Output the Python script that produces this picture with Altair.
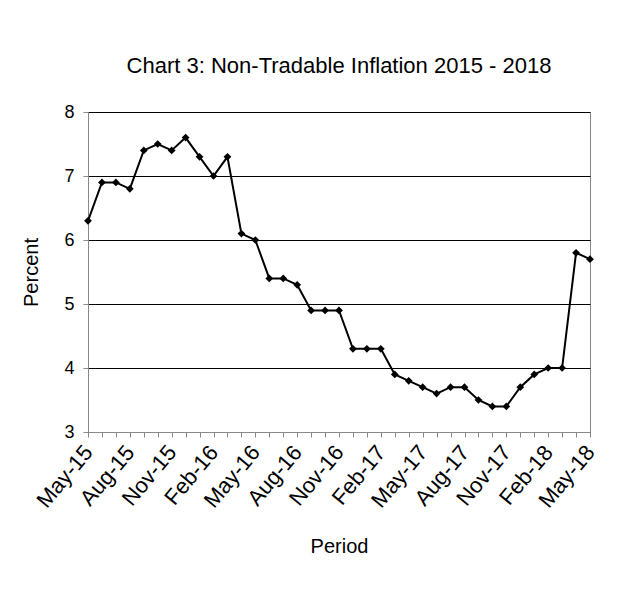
import altair as alt
import pandas as pd

periods = [
    "May-15", "Jun-15", "Jul-15", "Aug-15", "Sep-15", "Oct-15", "Nov-15", "Dec-15",
    "Jan-16", "Feb-16", "Mar-16", "Apr-16", "May-16", "Jun-16", "Jul-16", "Aug-16",
    "Sep-16", "Oct-16", "Nov-16", "Dec-16", "Jan-17", "Feb-17", "Mar-17", "Apr-17",
    "May-17", "Jun-17", "Jul-17", "Aug-17", "Sep-17", "Oct-17", "Nov-17", "Dec-17",
    "Jan-18", "Feb-18", "Mar-18", "Apr-18", "May-18",
]
inflation = [
    6.3, 6.9, 6.9, 6.8, 7.4, 7.5, 7.4, 7.6,
    7.3, 7.0, 7.3, 6.1, 6.0, 5.4, 5.4, 5.3,
    4.9, 4.9, 4.9, 4.3, 4.3, 4.3, 3.9, 3.8,
    3.7, 3.6, 3.7, 3.7, 3.5, 3.4, 3.4, 3.7,
    3.9, 4.0, 4.0, 5.8, 5.7,
]
y_ticks = [3, 4, 5, 6, 7, 8]

df = pd.DataFrame({"Period": periods, "Percent": inflation})

FONT = "Liberation Sans"

x_enc = alt.X(
    "Period:O",
    sort=periods,
    scale=alt.Scale(type="point", padding=0),
    axis=alt.Axis(
        title="Period",
        labelAngle=-50,
        labelExpr="test(/^(May|Aug|Nov|Feb)/, datum.value) ? datum.value : ''",
        labelOverlap=False,
        labelFontSize=22,
        labelColor="#000",
        labelPadding=11,
        tickSize=5,
        tickColor="#888",
        domainColor="#888",
        titleFontSize=20,
        titleFontWeight="normal",
        titleColor="#000",
        titlePadding=25,
        grid=False,
    ),
)
y_enc = alt.Y(
    "Percent:Q",
    scale=alt.Scale(domain=[3, 8], nice=False, zero=False),
    axis=alt.Axis(
        title="Percent",
        values=y_ticks,
        labelFontSize=18,
        labelColor="#000",
        labelPadding=9,
        tickSize=5,
        tickColor="#888",
        domainColor="#888",
        gridColor="#000",
        gridWidth=1,
        titleFontSize=20,
        titleFontWeight="normal",
        titleColor="#000",
        titlePadding=22,
    ),
)

base = alt.Chart(df).encode(x=x_enc, y=y_enc)
line = base.mark_line(color="#000", strokeWidth=2)
pts = base.mark_point(shape="diamond", filled=True, color="#000", size=60, opacity=1)

chart = (
    alt.layer(line, pts)
    .properties(
        width=502,
        height=320,
        title=alt.TitleParams(
            "Chart 3: Non-Tradable Inflation  2015 - 2018",
            fontSize=22,
            fontWeight="normal",
            font=FONT,
            color="#000",
            anchor="middle",
            offset=25,
        ),
        autosize="none",
        padding={"left": 80, "top": 104, "right": 45, "bottom": 162},
    )
    .configure(font=FONT)
    .configure_axis(labelFont=FONT, titleFont=FONT)
    .configure_view(stroke="#888", strokeWidth=1)
)

chart.save("out.html", embed_options={"renderer": "svg", "actions": False})
